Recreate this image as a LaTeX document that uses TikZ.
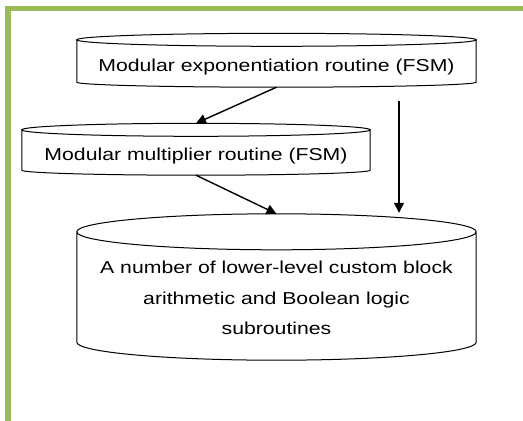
\documentclass[tikz,border=0pt]{standalone}
\usepackage{fontspec}
\setmainfont{Liberation Sans}[FakeStretch=1.23]
\usetikzlibrary{arrows.meta,calc}

\definecolor{framegreen}{RGB}{155,187,89}

\tikzset{
  cylbody/.style={draw=none, inner sep=0pt},
  cylline/.style={draw=black, line width=1pt},
  txt/.style={inner sep=0pt, font=\fontsize{17.25}{30.5}\selectfont, align=center},
  flow/.style={draw=black, line width=1.4pt, -{Triangle[length=10pt,width=10pt]}},
}

% outline of a vertical drum: #1 body node, #2 top radius, #3 bottom radius
\newcommand\drumoutline[3]{%
  \draw[cylline] let \p1=(#1.north west), \p2=(#1.south east), \n1={(\x2-\x1)/2} in
    (\p1) -- (\x1,\y2) arc[start angle=180, end angle=360, x radius=\n1, y radius=#3] -- (\x2,\y1)
    (#1.north) ellipse[x radius=\n1, y radius=#2];}

\begin{document}
\begin{tikzpicture}[x=1pt, y=-1pt]
  \useasboundingbox (0,0) rectangle (523,421);
  \clip (0,0) rectangle (523,421);

  % green page frame
  \draw[framegreen, line width=5.5pt] (8,8.5) rectangle (560,460);

  % drum bodies
  \node[cylbody, minimum width=399pt, minimum height=42pt] (expo) at (276.5,61) {};
  \node[cylbody, minimum width=348pt, minimum height=40pt] (mult) at (196,150) {};
  \node[cylbody, minimum width=399pt, minimum height=110pt] (subr) at (276.5,287) {};

  \drumoutline{expo}{6.5pt}{5pt}
  \drumoutline{mult}{6.5pt}{5pt}
  \drumoutline{subr}{18pt}{18pt}

  % labels
  \node[txt, anchor=base] (expotext) at (276.5,71.7) {Modular exponentiation routine (FSM)};
  \node[txt, anchor=base] (multtext) at (196,160.7) {Modular multiplier routine (FSM)};
  \node[txt] (subrtext) at (276.5,298.3) {A number of lower-level custom block\\arithmetic and Boolean logic\\subroutines};

  % calls between routines
  \coordinate (directfrom) at ([xshift=122.5pt, yshift=-19pt]expo.south);
  \coordinate (directto) at ([xshift=122.5pt, yshift=19pt]subr.north);
  \draw[flow] ([yshift=-5pt]expo.south) -- ([yshift=6.5pt]mult.north);
  \draw[flow] ([yshift=-5pt]mult.south) -- ([yshift=18pt]subr.north);
  \draw[flow] (directfrom) -- (directto);
\end{tikzpicture}
\end{document}
